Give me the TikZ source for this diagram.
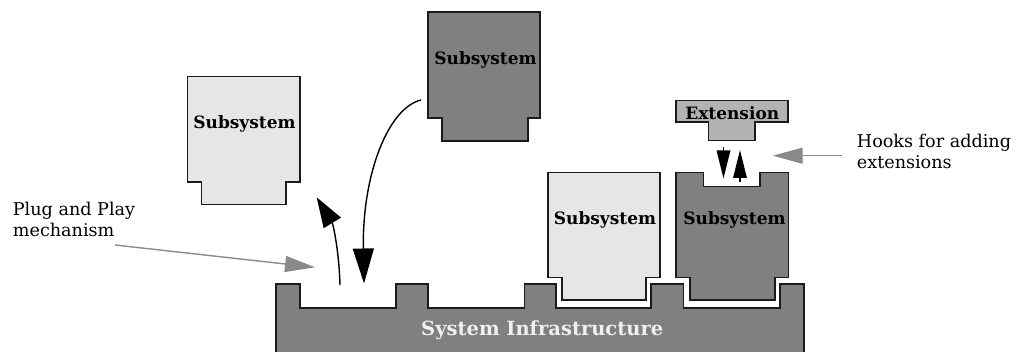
\documentclass[tikz,border=0pt]{standalone}
\usepackage{fontspec}
\setmainfont{DejaVu Serif}
\usetikzlibrary{arrows.meta}
\definecolor{lightfill}{HTML}{E6E6E6}
\definecolor{darkfill}{HTML}{808080}
\definecolor{extfill}{HTML}{B3B3B3}
\definecolor{edge}{HTML}{1A1A1A}
\definecolor{pointer}{HTML}{8A8A8A}
\definecolor{infratext}{HTML}{F0F0F0}
\begin{document}
\begin{tikzpicture}[x=1pt,y=-1pt,
  part/.style={draw=edge,line width=1.6pt,line join=miter},
  lbl/.style={font=\bfseries\fontsize{17}{20}\selectfont,inner sep=0pt,anchor=base},
  note/.style={font=\fontsize{17.6}{21.6}\selectfont,align=left,inner sep=0pt,anchor=north west},
  movearrow/.style={draw=black,line width=1.4pt,-{Triangle[length=35pt,width=21pt]}},
  liftarrow/.style={draw=black,line width=1.4pt,-{Triangle[length=30pt,width=20pt]}},
  hookarrow/.style={draw=black,line width=1.4pt,-{Triangle[length=28pt,width=13.5pt]}},
  pointarrow/.style={draw=pointer,line width=1.4pt,-{Triangle[length=30pt,width=16pt]}}
]
\useasboundingbox (0,0) rectangle (1017,352);

% System infrastructure
\draw[part,fill=darkfill] (275.7,356) -- (275.7,284.3) -- (300,284.3) -- (300,308.3)
  -- (396,308.3) -- (396,284.3) -- (427.7,284.3) -- (427.7,308.3)
  -- (524.3,308.3) -- (524.3,284.3) -- (556,284.3) -- (556,308.3)
  -- (651,308.3) -- (651,284.3) -- (683.3,284.3) -- (683.3,308.3)
  -- (780,308.3) -- (780,284.3) -- (804,284.3) -- (804,356);
\node[font=\bfseries\fontsize{19.5}{22}\selectfont,text=infratext,inner sep=0pt,anchor=base]
  (infra) at (542.2,336) {System Infrastructure};

% Left subsystem (unplugged)
\draw[part,fill=lightfill] (187.5,76.5) -- ++(112.5,0) -- ++(0,105.5) -- ++(-14,0)
  -- ++(0,22.5) -- ++(-84.5,0) -- ++(0,-22.5) -- ++(-14,0) -- cycle;
\node[lbl] (subleft) at (244.5,128.5) {Subsystem};

% Top subsystem (being plugged)
\draw[part,fill=darkfill] (427.7,12.3) -- ++(112.3,0) -- ++(0,106) -- ++(-12,0)
  -- ++(0,22.7) -- ++(-86.3,0) -- ++(0,-22.7) -- ++(-14,0) -- cycle;
\node[lbl] (subtop) at (485.5,64.5) {Subsystem};

% Plugged light subsystem
\draw[part,fill=lightfill] (547.7,172.7) -- ++(112.3,0) -- ++(0,105) -- ++(-14,0)
  -- ++(0,22.6) -- ++(-84.3,0) -- ++(0,-22.6) -- ++(-14,0) -- cycle;
\node[lbl] (sublight) at (605,224.5) {Subsystem};

% Plugged dark subsystem with hook notch
\draw[part,fill=darkfill] (675.7,172.7) -- (703.3,172.7) -- (703.3,186.7) -- (760,186.7)
  -- (760,172.7) -- (788.3,172.7) -- (788.3,277.7) -- (775,277.7) -- (775,300.3)
  -- (690,300.3) -- (690,277.7) -- (675.7,277.7) -- cycle;
\node[lbl] (subdark) at (734.5,224.5) {Subsystem};

% Extension
\draw[part,fill=extfill] (676,100.7) -- (788,100.7) -- (788,122.3) -- (755,122.3)
  -- (755,140.7) -- (708.3,140.7) -- (708.3,122.3) -- (676,122.3) -- cycle;
\node[lbl] (ext) at (732.3,120) {Extension};

% Connector end points
\coordinate (topsrc) at (421,100);
\coordinate (slotdrop) at (364,283.5);
\coordinate (slotlift) at (340,285);
\coordinate (liftend) at (316.7,197.3);
\coordinate (extout) at (723.5,147.5);
\coordinate (extin) at (723.5,178.5);
\coordinate (hookbase) at (740,182);
\coordinate (hooktop) at (740,150);

% Motion arrows
\draw[movearrow] (topsrc) .. controls (388,108) and (362,175) .. (slotdrop);
\draw[liftarrow] (slotlift) .. controls (339,250) and (333,224) .. (liftend);
\draw[hookarrow] (extout) -- (extin);
\draw[hookarrow] (hookbase) -- (hooktop);

% Annotations
\node[note] (plug) at (12.7,201.8) {Plug and Play\\mechanism};
\node[note] (hooks) at (856.7,133.5) {Hooks for adding\\extensions};
\coordinate (plugfrom) at (115,245);
\coordinate (plugto) at (315,267.3);
\coordinate (hooksfrom) at (841.7,155.7);
\coordinate (hooksto) at (772.7,155.7);
\draw[pointarrow] (plugfrom) -- (plugto);
\draw[pointarrow] (hooksfrom) -- (hooksto);
\end{tikzpicture}
\end{document}
